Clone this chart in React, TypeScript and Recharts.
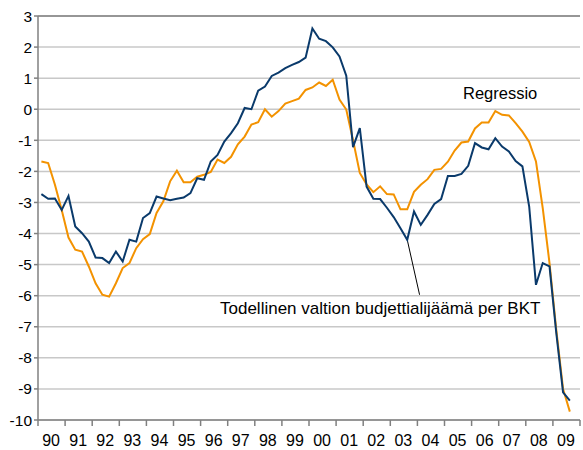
import React from 'react';
import { LineChart, Line, XAxis, YAxis, CartesianGrid, ReferenceLine, Customized } from 'recharts';

const YEAR_LABELS = ['90','91','92','93','94','95','96','97','98','99','00','01','02','03','04','05','06','07','08','09'];
const Y_TICKS = [-10,-9,-8,-7,-6,-5,-4,-3,-2,-1,0,1,2,3];

// Quarterly values 1990Q1 .. 2009Q3
const actual = [
  -2.73, -2.88, -2.87, -3.24, -2.79, -3.77, -3.99, -4.26, -4.77, -4.79,
  -4.95, -4.58, -4.9, -4.2, -4.26, -3.5, -3.34, -2.81, -2.87, -2.93,
  -2.88, -2.84, -2.7, -2.22, -2.27, -1.68, -1.47, -1.04, -0.77, -0.45,
  0.04, 0.0, 0.6, 0.73, 1.07, 1.18, 1.32, 1.43, 1.52, 1.66,
  2.6, 2.27, 2.19, 1.99, 1.7, 1.08, -1.22, -0.61, -2.49, -2.88,
  -2.89, -3.17, -3.47, -3.83, -4.2, -3.29, -3.72, -3.4, -3.05, -2.89,
  -2.15, -2.15, -2.08, -1.82, -1.09, -1.23, -1.29, -0.93, -1.2, -1.36,
  -1.67, -1.84, -3.13, -5.65, -4.95, -5.06, -7.2, -9.11, -9.38
];

const regression = [
  -1.68, -1.73, -2.43, -3.24, -4.13, -4.52, -4.58, -5.06, -5.6, -5.97,
  -6.03, -5.6, -5.11, -4.95, -4.47, -4.18, -4.02, -3.34, -2.96, -2.32,
  -1.98, -2.35, -2.35, -2.17, -2.11, -2.02, -1.62, -1.73, -1.53, -1.13,
  -0.88, -0.49, -0.42, 0.0, -0.24, -0.06, 0.18, 0.26, 0.34, 0.62,
  0.7, 0.86, 0.75, 0.95, 0.31, -0.01, -1.0, -2.05, -2.42, -2.67,
  -2.48, -2.73, -2.74, -3.22, -3.22, -2.66, -2.43, -2.25, -1.95, -1.92,
  -1.69, -1.33, -1.07, -1.04, -0.62, -0.43, -0.43, -0.06, -0.18, -0.2,
  -0.45, -0.72, -1.05, -1.68, -3.18, -4.95, -7.1, -9.0, -9.73
];

const data = actual.map((v, i) => ({ t: (i + 0.5) / 4, actual: v, regression: regression[i] }));
const X_TICKS = Array.from({ length: YEAR_LABELS.length + 1 }, (_, i) => i);

const W = 583;
const H = 450;
const MARGIN = { top: 16, right: 3, bottom: 0, left: 0 };
const Y_AXIS_W = 38;
const PLOT_W = W - MARGIN.left - MARGIN.right - Y_AXIS_W;
const HALF_YEAR = PLOT_W / YEAR_LABELS.length / 2;
const FONT = '"Liberation Sans", Arial, sans-serif';

const XTick = (props: any) => {
  const { x, y, payload } = props;
  if (payload.value >= YEAR_LABELS.length) return null;
  return (
    <text x={x + HALF_YEAR - 0.5} y={y + 18} textAnchor="middle" fontSize={16} fontFamily={FONT} fill="#000">
      {YEAR_LABELS[payload.value]}
    </text>
  );
};

const YTick = (props: any) => {
  const { x, y, payload } = props;
  return (
    <text x={x} y={y + 5.5} textAnchor="end" fontSize={15.5} fontFamily={FONT} fill="#000">
      {payload.value}
    </text>
  );
};

const Annotations = () => (
  <g fontFamily={FONT} fill="#000">
    <text x={463} y={99} fontSize={16.5}>Regressio</text>
    <text x={220} y={314} fontSize={17}>Todellinen valtion budjettialijäämä per BKT</text>
  </g>
);

export default function App() {
  return (
    <div style={{ position: 'absolute', left: 0, top: 0, width: W, height: H, background: '#fff' }}>
      <LineChart width={W} height={H} data={data} margin={MARGIN}>
        <CartesianGrid vertical={false} stroke="#c8c8c8" strokeWidth={1.5} />
        <XAxis
          type="number"
          dataKey="t"
          domain={[0, YEAR_LABELS.length]}
          ticks={X_TICKS}
          interval={0}
          tickSize={6}
          tick={<XTick />}
          height={30}
          axisLine={{ stroke: '#808080', strokeWidth: 1.5 }}
          tickLine={{ stroke: '#808080', strokeWidth: 1.5 }}
        />
        <YAxis
          type="number"
          domain={[-10, 3]}
          ticks={Y_TICKS}
          interval={0}
          width={Y_AXIS_W}
          tickSize={4}
          tickMargin={2}
          tick={<YTick />}
          axisLine={{ stroke: '#808080', strokeWidth: 1.5 }}
          tickLine={{ stroke: '#808080', strokeWidth: 1.5 }}
        />
        <ReferenceLine y={3} stroke="#808080" strokeWidth={1.5} />
        <ReferenceLine
          segment={[{ x: 54.5 / 4, y: -4.2 }, { x: 14.08, y: -5.97 }]}
          stroke="#000"
          strokeWidth={1}
        />
        <Line type="linear" dataKey="regression" stroke="#f39200" strokeWidth={2} dot={false} isAnimationActive={false} />
        <Line type="linear" dataKey="actual" stroke="#0a3a6b" strokeWidth={2} dot={false} isAnimationActive={false} />
        <Customized component={<Annotations />} />
      </LineChart>
    </div>
  );
}
